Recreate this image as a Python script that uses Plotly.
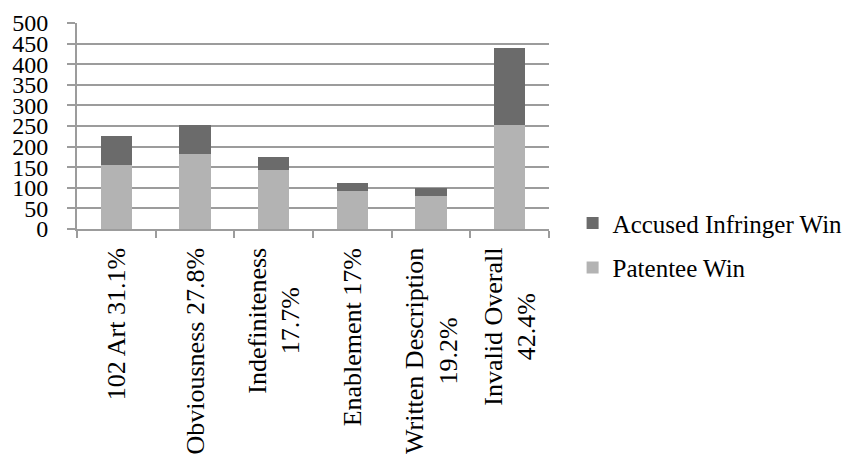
import plotly.graph_objects as go

# Invalidity grounds and win counts
categories = ["102 Art 31.1%", "Obviousness 27.8%", "Indefiniteness<br>17.7%",
              "Enablement 17%", "Written Description<br>19.2%", "Invalid Overall<br>42.4%"]
patentee_win = [155, 182, 144, 93, 80, 253]
accused_win = [70, 70, 31, 19, 19, 186]
y_ticks = list(range(0, 501, 50))

FONT = "Liberation Serif, Times New Roman, serif"
GRID = "#9c9c9c"

fig = go.Figure()
fig.add_trace(go.Bar(x=categories, y=patentee_win, name="Patentee Win",
                     legendgroup="p", legendrank=2,
                     marker=dict(color="#b3b3b3", line=dict(width=0))))
fig.add_trace(go.Bar(x=categories, y=accused_win, name="Accused Infringer Win",
                     legendgroup="a", legendrank=1,
                     marker=dict(color="#6b6b6b", line=dict(width=0))))

# Rotated category labels, centered multi-line text
for c in categories:
    fig.add_annotation(x=c, xref="x", y=0, yref="paper", text=c, showarrow=False,
                       textangle=-90, xanchor="center", yanchor="top", yshift=-17,
                       align="center", font=dict(family=FONT, size=26, color="black"))

fig.update_layout(
    width=857, height=463,
    margin=dict(l=77, r=308, t=23, b=234, autoexpand=False),
    barmode="stack", bargap=0.605,
    plot_bgcolor="white", paper_bgcolor="white",
    font=dict(family=FONT, size=26, color="black"),
    showlegend=True,
    legend=dict(x=1.05, y=0.14, xanchor="left", yanchor="top",
                traceorder="grouped", font=dict(family=FONT, size=25),
                itemwidth=30, tracegroupgap=9, bgcolor="rgba(0,0,0,0)"),
    xaxis=dict(showticklabels=False, tickson="boundaries", ticks="outside",
               ticklen=7, tickwidth=2, tickcolor=GRID, showline=True,
               linecolor=GRID, linewidth=2, showgrid=False),
    yaxis=dict(range=[0, 500], tickvals=y_ticks, ticks="outside", ticklen=8,
               tickwidth=2, tickcolor=GRID, showline=True, linecolor=GRID,
               linewidth=2, gridcolor=GRID, gridwidth=2, zeroline=False,
               tickfont=dict(family=FONT, size=24), ticklabelstandoff=14),
)

fig.write_html("out.html")
